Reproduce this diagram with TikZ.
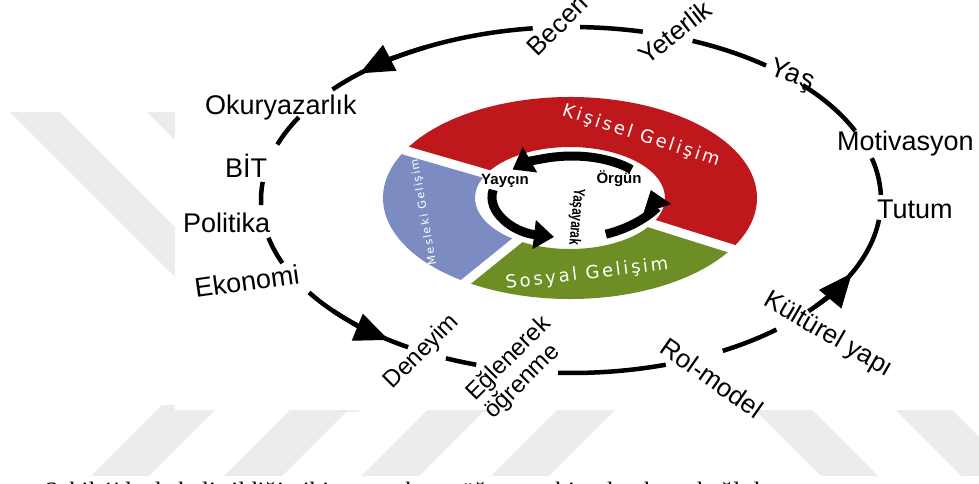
\documentclass[tikz,border=0pt]{standalone}
\usepackage{fontspec}
\setmainfont{Liberation Sans}
\newfontfamily\ringfont[LetterSpace=15]{DejaVu Sans}
\newfontfamily\capfont{Liberation Serif}
\usetikzlibrary{arrows.meta}

\definecolor{kisiselred}{RGB}{190,24,28}
\definecolor{meslekiblue}{RGB}{124,140,194}
\definecolor{sosyalgreen}{RGB}{108,142,36}
\definecolor{markgray}{RGB}{236,236,236}

\tikzset{
  cyclelabel/.style={font=\fontsize{27}{27}\selectfont, inner sep=0pt},
  ringlabel/.style={text=white, font=\ringfont\fontsize{18}{18}\selectfont, inner sep=0pt},
  innerlabel/.style={font=\bfseries\fontsize{15}{15}\selectfont, inner sep=0pt},
  bigloop/.style={line width=4.5pt},
  bigtip/.style={-{Triangle[length=34pt,width=28pt]}, line width=4.5pt},
  smallloop/.style={line width=9pt, -{Triangle[length=20pt,width=28pt]}},
  band/.style={fill=markgray}
}

\begin{document}
\begin{tikzpicture}[x=1pt,y=-1pt]
  \useasboundingbox (0,0) rectangle (979,483);
  \clip (0,0) rectangle (979,483);

  % watermark
  \foreach \s in {10,147}
    \fill[band] (\s,112) -- (\s+50,112) -- (\s+350,412) -- (\s+300,412) -- cycle;
  \foreach \s in {127,260,397,527}
    \fill[band] (\s+35,405) -- (\s+93,405) -- (\s+22,476) -- (\s-36,476) -- cycle;
  \foreach \s in {785,925}
    \fill[band] (\s-35,405) -- (\s+22,405) -- (\s+93,476) -- (\s+36,476) -- cycle;
  \fill[white] (175,0) rectangle (979,410);

  % outer cycle
  \foreach \a/\b in {219.7/262.9, 271.7/283.4, 293.1/309, 318.4/336.4, 346/358.3,
      366.6/397.8, 48.5/60.7, 72.2/92.4, 107.8/113.8, 121.7/147.7, 158.6/167.4,
      178.3/186, 198.7/208.6}
    \draw[bigloop] ({571+310*cos(\a)},{200+173*sin(\a)})
      arc[start angle=\a, end angle=\b, x radius=310, y radius=173];
  \foreach \a/\b in {242/227, 140/126, 40/25}
    \draw[bigtip] ({571+310*cos(\a)},{200+173*sin(\a)})
      arc[start angle=\a, end angle=\b, x radius=310, y radius=173];

  \node[cyclelabel, anchor=base west] (okur) at (205,114) {Okuryazarlık};
  \node[cyclelabel, anchor=base west] (bit) at (225,177) {BİT};
  \node[cyclelabel, anchor=base west] (politika) at (183,232) {Politika};
  \node[cyclelabel, anchor=base west, rotate=8] (ekonomi) at (196,298) {Ekonomi};
  \node[cyclelabel, rotate=45, font=\fontsize{24}{24}\selectfont] (deneyim) at (422,352) {Deneyim};
  \node[cyclelabel, rotate=45, align=left, font=\fontsize{24}{26}\selectfont] (eglenerek) at (518,368) {Eğlenerek\\öğrenme};
  \node[cyclelabel, rotate=-35, font=\fontsize{26}{26}\selectfont] (rolmodel) at (712,378) {Rol-model};
  \node[cyclelabel, rotate=-30, font=\fontsize{26}{26}\selectfont] (kulturel) at (828,335) {Kültürel yapı};
  \node[cyclelabel, anchor=base west] (tutum) at (877,218) {Tutum};
  \node[cyclelabel, anchor=base west] (motivasyon) at (837,150) {Motivasyon};
  \node[cyclelabel, rotate=-20] (yas) at (792,76) {Yaş};
  \node[cyclelabel, rotate=38, font=\fontsize{26}{26}\selectfont] (yeterlik) at (675,32) {Yeterlik};
  \node[cyclelabel, rotate=45, font=\fontsize{26}{26}\selectfont] (beceri) at (557,25) {Beceri};

  % development ring
  \foreach \a/\b/\c in {208/390/kisiselred, 30/124/sosyalgreen, 124/208/meslekiblue}
    \fill[\c] ({570+187*cos(\a)},{198+101*sin(\a)})
      arc[start angle=\a, end angle=\b, x radius=187, y radius=101]
      -- ({570+95*cos(\b)},{198+51*sin(\b)})
      arc[start angle=\b, end angle=\a, x radius=95, y radius=51] -- cycle;
  \foreach \a in {30,124,208}
    \draw[white, line width=9pt] ({570+85*cos(\a)},{198+46*sin(\a)})
      -- ({570+197*cos(\a)},{198+107*sin(\a)});

  \node[ringlabel, rotate=-18] (kisisel) at (641,136) {Kişisel Gelişim};
  \node[ringlabel, rotate=7] (sosyal) at (587,274) {Sosyal Gelişim};
  \node[ringlabel, rotate=100, font=\ringfont\fontsize{11}{11}\selectfont] (mesleki) at (424,212) {Mesleki Gelişim};

  % learning loop
  \foreach \a/\b in {318/222, 190/103, 65/-10}
    \draw[smallloop] ({572+80*cos(\a)},{197+41*sin(\a)})
      arc[start angle=\a, end angle=\b, x radius=80, y radius=41];
  \node[innerlabel] (yaygin) at (505,181) {Yayçın};
  \node[innerlabel] (orgun) at (619,179) {Örgün};
  \node[innerlabel, rotate=-95, font=\bfseries\fontsize{16}{16}\selectfont] (yasayarak) at (576,217) {\scalebox{0.72}[1]{Yaşayarak}};

  \node[anchor=base west, inner sep=0pt, font=\capfont\fontsize{25}{25}\selectfont] (caption)
    at (44,499) {Şekil 1'de de belirtildiği gibi yaşam boyu öğrenme birçok etkene bağlıdır};
\end{tikzpicture}
\end{document}
